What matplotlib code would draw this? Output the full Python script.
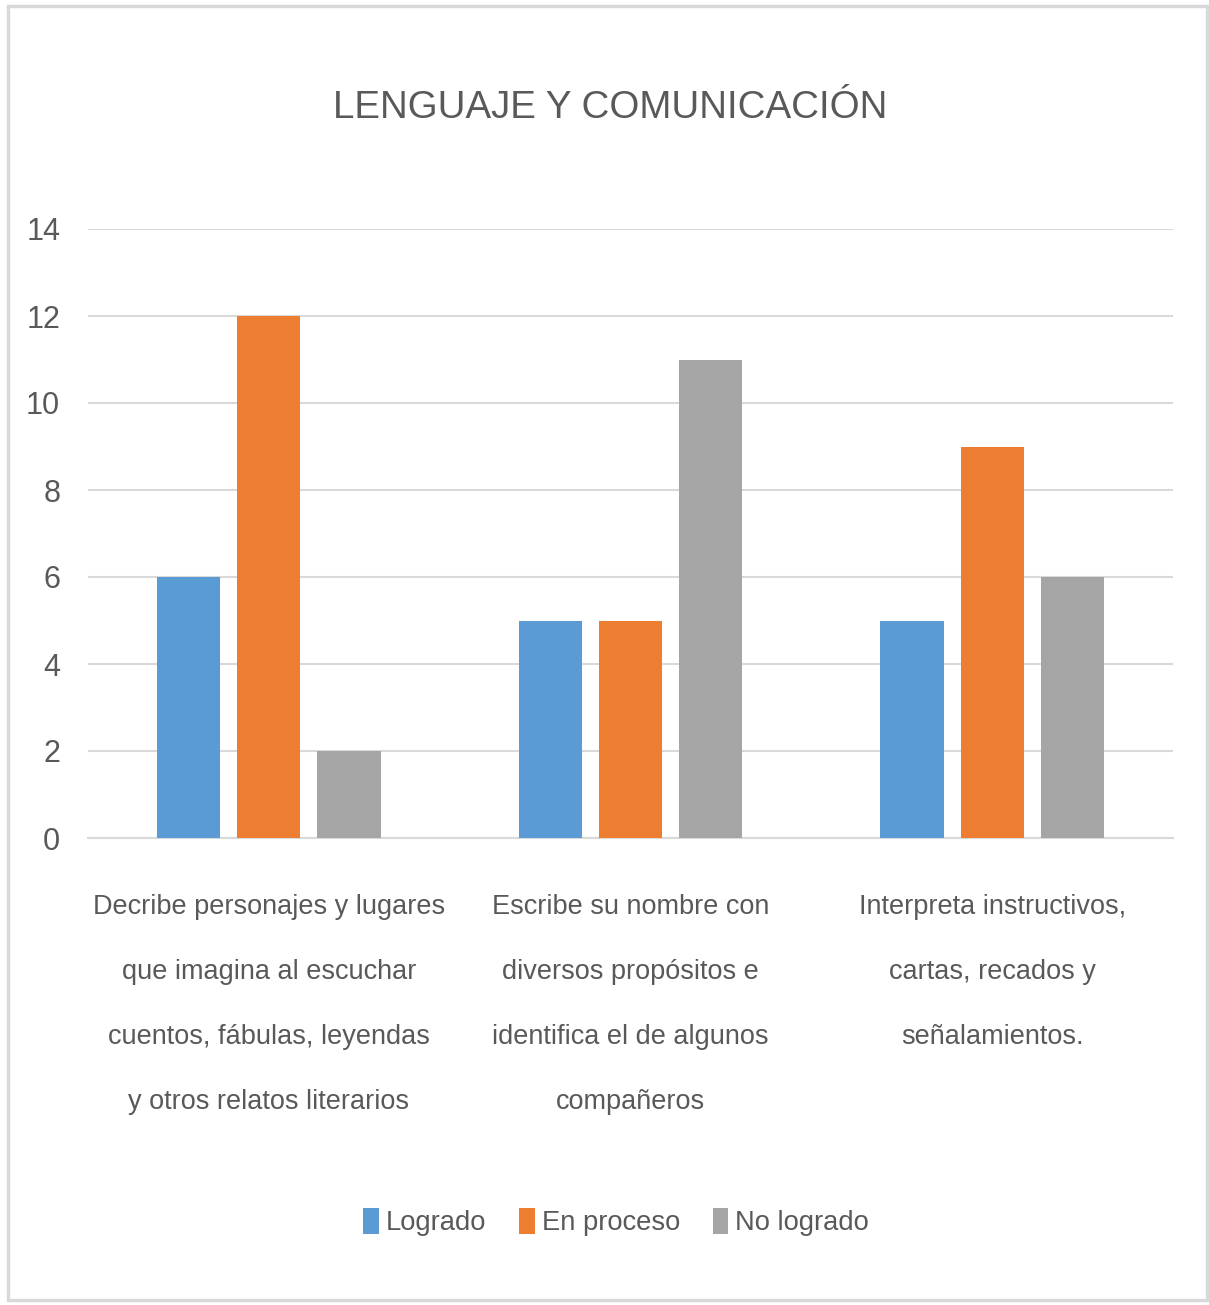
import matplotlib
matplotlib.use("Agg")
import matplotlib.pyplot as plt
from matplotlib import font_manager as fm
from matplotlib.patches import Rectangle
import numpy as np

categories = [
    "Decribe personajes y lugares\nque imagina al escuchar\ncuentos, fábulas, leyendas\ny otros relatos literarios",
    "Escribe su nombre con\ndiversos propósitos e\nidentifica el de algunos\ncompañeros",
    "Interpreta instructivos,\ncartas, recados y\nseñalamientos.",
]
series_names = ["Logrado", "En proceso", "No logrado"]
logrado = [6, 5, 5]
en_proceso = [12, 5, 9]
no_logrado = [2, 11, 6]
y_ticks = [0, 2, 4, 6, 8, 10, 12, 14]
colors = ["#5B9BD5", "#ED7D31", "#A5A5A5"]

names = {f.name for f in fm.fontManager.ttflist}
stretch = "normal"
if "Liberation Sans Narrow" in names:
    fam = "Liberation Sans Narrow"
elif "DejaVu Sans Condensed" in names:
    fam = "DejaVu Sans"
    stretch = "condensed"
else:
    fam = "Liberation Sans"
plt.rcParams["font.family"] = [fam, "DejaVu Sans"]
plt.rcParams["font.stretch"] = stretch

text_color = "#595959"

fig = plt.figure(figsize=(12.09, 13.05), dpi=100)
fig.patches.append(Rectangle((8/1209, 1 - 1300/1305), (1207-8)/1209, (1300-6)/1305,
                             transform=fig.transFigure, fill=False,
                             edgecolor="#D9D9D9", linewidth=2.5))

ax = fig.add_axes([88/1209, 1 - 838/1305, (1173-88)/1209, (838-229)/1305])
x = np.arange(len(categories))
w = 0.175
off = 0.222
for i, (vals, name) in enumerate(zip([logrado, en_proceso, no_logrado], series_names)):
    ax.bar(x + (i - 1) * off, vals, width=w, color=colors[i], label=name, zorder=3)

ax.set_xlim(-0.5, 2.5)
ax.set_ylim(0, 14)
ax.set_yticks(y_ticks)
ax.set_yticklabels([str(t) for t in y_ticks], fontsize=22, color=text_color)
ax.yaxis.grid(True, color="#D9D9D9", linewidth=1.5, zorder=0)
for s in ["top", "right", "left"]:
    ax.spines[s].set_visible(False)
ax.spines["bottom"].set_color("#D9D9D9")
ax.spines["bottom"].set_linewidth(1.5)
ax.tick_params(axis="y", length=0, pad=20)
ax.tick_params(axis="x", length=0, pad=40)
ax.set_xticks(x)
ax.set_xticklabels(categories, fontsize=19.5, color=text_color, linespacing=2.95, va="top")

fig.text(610/1209, 1 - 108/1305, "LENGUAJE Y COMUNICACIÓN", ha="center", va="center",
         fontsize=27.7, color=text_color)

leg = fig.legend(loc="center", bbox_to_anchor=(616/1209, 1 - 1222/1305), ncol=3,
                 frameon=False, fontsize=19.7, handlelength=0.58, handleheight=1.1,
                 handletextpad=0.25, columnspacing=1.2)
for t in leg.get_texts():
    t.set_color(text_color)

fig.savefig("out.png", dpi=100)
